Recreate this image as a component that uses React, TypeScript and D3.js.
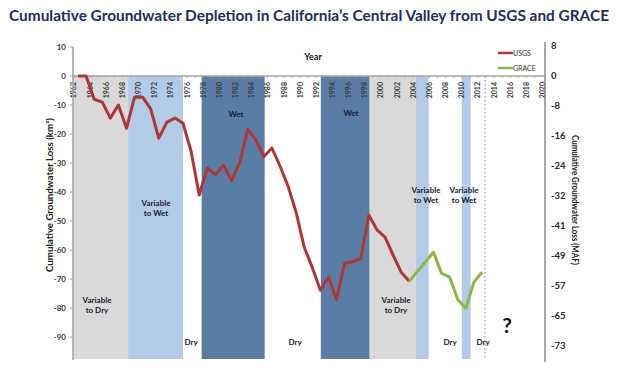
import React from "react";
import * as d3 from "d3";

const usgsYears = [1962,1963,1964,1965,1966,1967,1968,1969,1970,1971,1972,1973,1974,1975,1976,1977,1978,1979,1980,1981,1982,1983,1984,1985,1986,1987,1988,1989,1990,1991,1992,1993,1994,1995,1996,1997,1998,1999,2000,2001,2002,2003];
const usgsValues = [0,0,-8,-9,-14.5,-10,-18,-7.3,-7.3,-11.4,-21.4,-15.9,-14.5,-16.3,-26,-41,-31.7,-34,-30.7,-36,-30,-18.4,-22,-27.8,-24.8,-31,-38,-47,-59,-66,-73.8,-69.3,-77,-64.5,-64,-62.8,-48,-53,-55.5,-61.7,-67.6,-70.7];
const graceYears = [2003,2006,2007,2008,2009,2010,2011,2012];
const graceValues = [-70.7,-60.7,-68,-69.3,-77,-80,-71,-67.6];

const bandStarts = [1961.38,1968.2,1975.0,1977.3,1985.1,1992.05,1998.1,2003.8,2005.4,2009.5];
const bandEnds =   [1968.2,1975.0,1977.3,1985.1,1992.05,1998.1,2003.8,2005.4,2009.5,2010.6];
const bandTypes = ["gray","light","white","dark","white","dark","gray","light","white","light"];

const yearTicks = d3.range(1962, 2021, 2);
const leftTicks = [10,0,-10,-20,-30,-40,-50,-60,-70,-80,-90];
const rightTicks = ["8","0","-8","-16","-24","-32","-41","-49","-57","-65","-73"];

const bandColor: Record<string,string> = {
  gray: "#d9d9d9",
  light: "#b2cbe8",
  white: "none",
  dark: "#5a7da6",
};

const FONT = "Lato, 'Open Sans', sans-serif";

export default function App() {
  const W = 619, H = 376;
  const x = d3.scaleLinear().domain([1961.38, 2019.8]).range([73, 545]);
  const y = d3.scaleLinear().domain([10, -97.5]).range([47, 359]);
  const yR = d3.scalePoint<string>().domain(rightTicks).range([45, 345]);
  const yBottom = y(-97.5);

  const line = d3.line<[number, number]>().x(d => x(d[0])).y(d => y(d[1]));
  const usgs = usgsYears.map((yr, i) => [yr, usgsValues[i]] as [number, number]);
  const grace = graceYears.map((yr, i) => [yr, graceValues[i]] as [number, number]);

  const lbl = (cx: number, cy: number, lines: string[], key: string) => (
    <text key={key} x={cx} y={cy} textAnchor="middle" fontFamily={FONT} fontWeight={700} fontSize={8} fill="#1b1b2e">
      {lines.map((t, i) => (
        <tspan key={i} x={cx} dy={i === 0 ? 0 : 9.5}>{t}</tspan>
      ))}
    </text>
  );

  return (
    <svg width={W} height={H} style={{ position: "absolute", left: 0, top: 0, background: "#fff" }}>
      <text x={9} y={21} fontFamily={FONT} fontWeight={700} fontSize={15.5} fill="#1c2f5e" textLength={600} lengthAdjust="spacingAndGlyphs">
        Cumulative Groundwater Depletion in California’s Central Valley from USGS and GRACE
      </text>

      {bandStarts.map((s, i) =>
        bandTypes[i] === "white" ? null : (
          <rect key={i} x={x(s)} y={y(0)} width={x(bandEnds[i]) - x(s)} height={yBottom - y(0)} fill={bandColor[bandTypes[i]]} />
        )
      )}

      <line x1={x(2012.37)} x2={x(2012.37)} y1={y(0)} y2={yBottom} stroke="#9a9a9a" strokeWidth={1.2} strokeDasharray="1.5,2.5" />

      {/* x axis at zero */}
      <line x1={x(1961.38)} x2={x(2019.8)} y1={y(0)} y2={y(0)} stroke="#a6a6a6" strokeWidth={1.5} />
      {d3.range(1962, 2020).map(yr => (
        <line key={yr} x1={x(yr - 0.5)} x2={x(yr - 0.5)} y1={y(0)} y2={y(0) + 2} stroke="#a6a6a6" strokeWidth={0.8} />
      ))}
      {yearTicks.map(yr => (
        <text key={yr} transform={`translate(${x(yr - 0.5) + 2.5},${y(0) + 6}) rotate(-90)`} textAnchor="end" fontFamily={FONT} fontWeight={700} fontSize={7} fill="#3a3a3a">
          {yr}
        </text>
      ))}

      {/* left axis */}
      <line x1={73} x2={73} y1={y(10)} y2={yBottom + 1} stroke="#a0a0a0" strokeWidth={1.5} />
      {leftTicks.map(t => (
        <g key={t}>
          <line x1={70} x2={73} y1={y(t)} y2={y(t)} stroke="#a0a0a0" strokeWidth={1} />
          <text x={66} y={y(t) + 3} textAnchor="end" fontFamily={FONT} fontWeight={700} fontSize={8} fill="#3a3a3a">{t}</text>
        </g>
      ))}
      <text transform={`translate(53,195) rotate(-90)`} textAnchor="middle" fontFamily={FONT} fontWeight={700} fontSize={8.5} fill="#1b1b1b" textLength={154} lengthAdjust="spacingAndGlyphs">
        Cumulative Groundwater Loss (km³)
      </text>

      {/* right axis */}
      <line x1={545} x2={545} y1={42} y2={362} stroke="#8a8a8a" strokeWidth={1.5} />
      {rightTicks.map(t => (
        <text key={t} x={551} y={(yR(t) as number) + 3.5} fontFamily={FONT} fontWeight={700} fontSize={9.5} fill="#2a2a2a">{t}</text>
      ))}
      <text transform={`translate(572,200) rotate(90)`} textAnchor="middle" fontFamily={FONT} fontWeight={700} fontSize={9} fill="#1b1b1b" textLength={130} lengthAdjust="spacingAndGlyphs">
        Cumulative Groundwater Loss (MAF)
      </text>

      {/* lines */}
      <path d={line(usgs) || ""} fill="none" stroke="#b03636" strokeWidth={3} strokeLinejoin="round" />
      <path d={line(grace) || ""} fill="none" stroke="#8cb845" strokeWidth={3} strokeLinejoin="round" />

      {/* Year & legend */}
      <text x={313} y={60} textAnchor="middle" fontFamily={FONT} fontWeight={700} fontSize={9} fill="#111">Year</text>
      <line x1={498} x2={513} y1={53} y2={53} stroke="#b03636" strokeWidth={2.5} />
      <text x={513} y={56} fontFamily={FONT} fontSize={7} fill="#333">USGS</text>
      <line x1={498} x2={513} y1={68} y2={68} stroke="#8cb845" strokeWidth={2.5} />
      <text x={513} y={71} fontFamily={FONT} fontSize={7} fill="#333">GRACE</text>

      {/* band labels */}
      {lbl(97, 303, ["Variable", "to Dry"], "a")}
      {lbl(156, 206, ["Variable", "to Wet"], "b")}
      {lbl(191, 345, ["Dry"], "c")}
      {lbl(236, 117, ["Wet"], "d")}
      {lbl(295, 345, ["Dry"], "e")}
      {lbl(351, 116, ["Wet"], "f")}
      {lbl(396, 303, ["Variable", "to Dry"], "g")}
      {lbl(426, 193, ["Variable", "to Wet"], "h")}
      {lbl(464, 193, ["Variable", "to Wet"], "i")}
      {lbl(450, 345, ["Dry"], "j")}
      {lbl(483, 345, ["Dry"], "k")}
      <text x={507} y={333} textAnchor="middle" fontFamily={FONT} fontWeight={700} fontSize={21} fill="#111">?</text>
    </svg>
  );
}
